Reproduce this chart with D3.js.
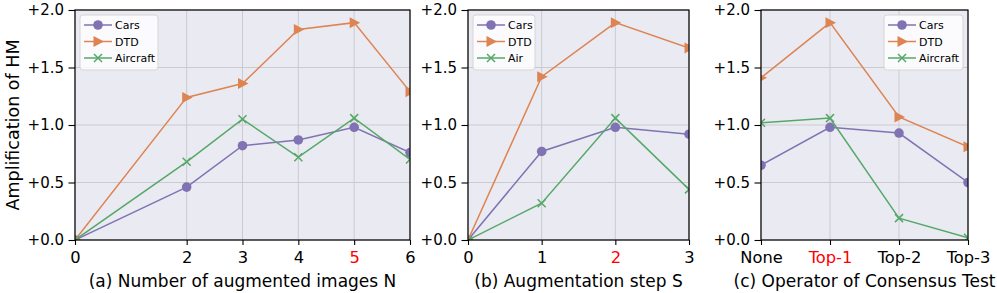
<!DOCTYPE html>
<html>
<head>
<meta charset="utf-8">
<script src="https://cdn.jsdelivr.net/npm/d3@7"></script>
<style>
  body { margin: 0; background: #fff; }
  svg { display: block; font-family: "DejaVu Sans", sans-serif; }
</style>
</head>
<body>
<svg id="chart" width="997" height="293"></svg>
<script>
// panel (a): number of augmented images N
var nValues = [0, 2, 3, 4, 5, 6];
var nCars = [0, 0.46, 0.82, 0.87, 0.98, 0.76];
var nDtd = [0, 1.24, 1.36, 1.83, 1.89, 1.29];
var nAircraft = [0, 0.68, 1.05, 0.72, 1.06, 0.70];

// panel (b): augmentation step S
var sValues = [0, 1, 2, 3];
var sCars = [0, 0.77, 0.98, 0.92];
var sDtd = [0, 1.42, 1.89, 1.67];
var sAir = [0, 0.32, 1.06, 0.44];

// panel (c): operator of consensus test
var opCategories = ['None', 'Top-1', 'Top-2', 'Top-3'];
var opCars = [0.65, 0.98, 0.93, 0.50];
var opDtd = [1.41, 1.89, 1.07, 0.81];
var opAircraft = [1.02, 1.06, 0.19, 0.02];

var yTicks = [0, 0.5, 1.0, 1.5, 2.0];

var colors = { cars: '#8172b3', dtd: '#dd8452', air: '#55a868' };
var svg = d3.select('#chart');

function marker(g, kind, color) {
  if (kind === 'circle') {
    g.append('circle').attr('r', 4.8).attr('fill', color);
  } else if (kind === 'tri') {
    g.append('path').attr('d', 'M-4.5,-5.5L6,0L-4.5,5.5Z').attr('fill', color);
  } else {
    g.append('path').attr('d', 'M-4,-4L4,4M-4,4L4,-4')
      .attr('stroke', color).attr('stroke-width', 1.5).attr('fill', 'none');
  }
}

function panel(opts) {
  var box = opts.box;
  var g = svg.append('g');
  var x = opts.x;
  var y = d3.scaleLinear().domain([0, 2]).range([box.bottom, box.top]);

  g.append('rect')
    .attr('x', box.left).attr('y', box.top)
    .attr('width', box.right - box.left).attr('height', box.bottom - box.top)
    .attr('fill', '#eaeaf2');

  // grid
  g.selectAll('line.gy').data(yTicks).enter().append('line')
    .attr('x1', box.left).attr('x2', box.right)
    .attr('y1', function (d) { return y(d); }).attr('y2', function (d) { return y(d); })
    .attr('stroke', '#cbcbcf').attr('stroke-width', 1);
  g.selectAll('line.gx').data(opts.ticks).enter().append('line')
    .attr('y1', box.top).attr('y2', box.bottom)
    .attr('x1', function (d) { return x(d); }).attr('x2', function (d) { return x(d); })
    .attr('stroke', '#cbcbcf').attr('stroke-width', 1);

  var clipId = 'clip' + opts.id;
  svg.append('clipPath').attr('id', clipId).append('rect')
    .attr('x', box.left).attr('y', box.top)
    .attr('width', box.right - box.left).attr('height', box.bottom - box.top);

  var plot = g.append('g').attr('clip-path', 'url(#' + clipId + ')');
  var line = d3.line()
    .x(function (d) { return x(d[0]); })
    .y(function (d) { return y(d[1]); });

  opts.series.forEach(function (s) {
    var pts = opts.xs.map(function (v, i) { return [v, s.values[i]]; });
    plot.append('path').datum(pts)
      .attr('d', line).attr('fill', 'none')
      .attr('stroke', s.color).attr('stroke-width', 1.5);
    pts.forEach(function (p) {
      var m = plot.append('g').attr('transform', 'translate(' + x(p[0]) + ',' + y(p[1]) + ')');
      marker(m, s.marker, s.color);
    });
  });

  // frame
  g.append('rect')
    .attr('x', box.left).attr('y', box.top)
    .attr('width', box.right - box.left).attr('height', box.bottom - box.top)
    .attr('fill', 'none').attr('stroke', '#000').attr('stroke-width', 1.2);

  // axes
  var yAxis = d3.axisLeft(y).tickValues(yTicks).tickSize(6.5).tickPadding(4.5)
    .tickFormat(function (d) { return '+' + d.toFixed(1); });
  var ya = g.append('g').attr('transform', 'translate(' + box.left + ',0)').call(yAxis);
  var xAxis = d3.axisBottom(x).tickValues(opts.ticks).tickSize(5).tickPadding(6.5)
    .tickFormat(opts.tickFormat || function (d) { return d; });
  var xa = g.append('g').attr('transform', 'translate(0,' + box.bottom + ')').call(xAxis);
  [ya, xa].forEach(function (a) {
    a.select('.domain').remove();
    a.selectAll('line').attr('stroke', '#000').attr('stroke-width', 1.1);
    a.selectAll('text').attr('fill', '#000')
      .attr('font-family', '"DejaVu Sans", sans-serif');
  });
  ya.selectAll('text').attr('font-size', 15);
  xa.selectAll('text').attr('font-size', 16.3);
  xa.selectAll('.tick text')
    .attr('fill', function (d) { return d === opts.best ? '#ff0000' : '#000'; });

  g.append('text')
    .attr('x', (box.left + box.right) / 2).attr('y', 287)
    .attr('text-anchor', 'middle').attr('font-size', 17)
    .text(opts.xlabel);

  // legend
  var lw = opts.legendWidth;
  var lx = opts.legendRight ? box.right - 5 - lw : box.left + 5;
  var lg = g.append('g').attr('transform', 'translate(' + lx + ',' + (box.top + 5) + ')');
  lg.append('rect').attr('width', lw).attr('height', 55).attr('rx', 3)
    .attr('fill', '#fff').attr('fill-opacity', 0.8)
    .attr('stroke', '#d6d6d6').attr('stroke-width', 1);
  opts.series.forEach(function (s, i) {
    var row = lg.append('g').attr('transform', 'translate(0,' + (10 + i * 16.5) + ')');
    row.append('line').attr('x1', 4).attr('x2', 32)
      .attr('stroke', s.color).attr('stroke-width', 1.5);
    marker(row.append('g').attr('transform', 'translate(18,0)'), s.marker, s.color);
    row.append('text').attr('x', 35).attr('y', 4).attr('font-size', 11).text(s.name);
  });
}

panel({
  id: 'a',
  box: { left: 75, right: 410, top: 10, bottom: 240 },
  x: d3.scaleLinear().domain([0, 6]).range([75, 410]),
  xs: nValues, ticks: nValues, best: 5,
  xlabel: '(a) Number of augmented images N',
  legendWidth: 78, legendRight: false,
  series: [
    { name: 'Cars', values: nCars, color: colors.cars, marker: 'circle' },
    { name: 'DTD', values: nDtd, color: colors.dtd, marker: 'tri' },
    { name: 'Aircraft', values: nAircraft, color: colors.air, marker: 'x' }
  ]
});

panel({
  id: 'b',
  box: { left: 468, right: 689, top: 10, bottom: 240 },
  x: d3.scaleLinear().domain([0, 3]).range([468, 689]),
  xs: sValues, ticks: sValues, best: 2,
  xlabel: '(b) Augmentation step S',
  legendWidth: 62, legendRight: false,
  series: [
    { name: 'Cars', values: sCars, color: colors.cars, marker: 'circle' },
    { name: 'DTD', values: sDtd, color: colors.dtd, marker: 'tri' },
    { name: 'Air', values: sAir, color: colors.air, marker: 'x' }
  ]
});

var opX = d3.scalePoint().domain(opCategories).range([761, 968]);
panel({
  id: 'c',
  box: { left: 761, right: 968, top: 10, bottom: 240 },
  x: opX,
  xs: opCategories, ticks: opCategories, best: 'Top-1',
  xlabel: '(c) Operator of Consensus Test',
  legendWidth: 79, legendRight: true,
  series: [
    { name: 'Cars', values: opCars, color: colors.cars, marker: 'circle' },
    { name: 'DTD', values: opDtd, color: colors.dtd, marker: 'tri' },
    { name: 'Aircraft', values: opAircraft, color: colors.air, marker: 'x' }
  ]
});

svg.append('text')
  .attr('transform', 'translate(19,125) rotate(-90)')
  .attr('text-anchor', 'middle').attr('font-size', 17.5)
  .text('Amplification of HM');
</script>
</body>
</html>
